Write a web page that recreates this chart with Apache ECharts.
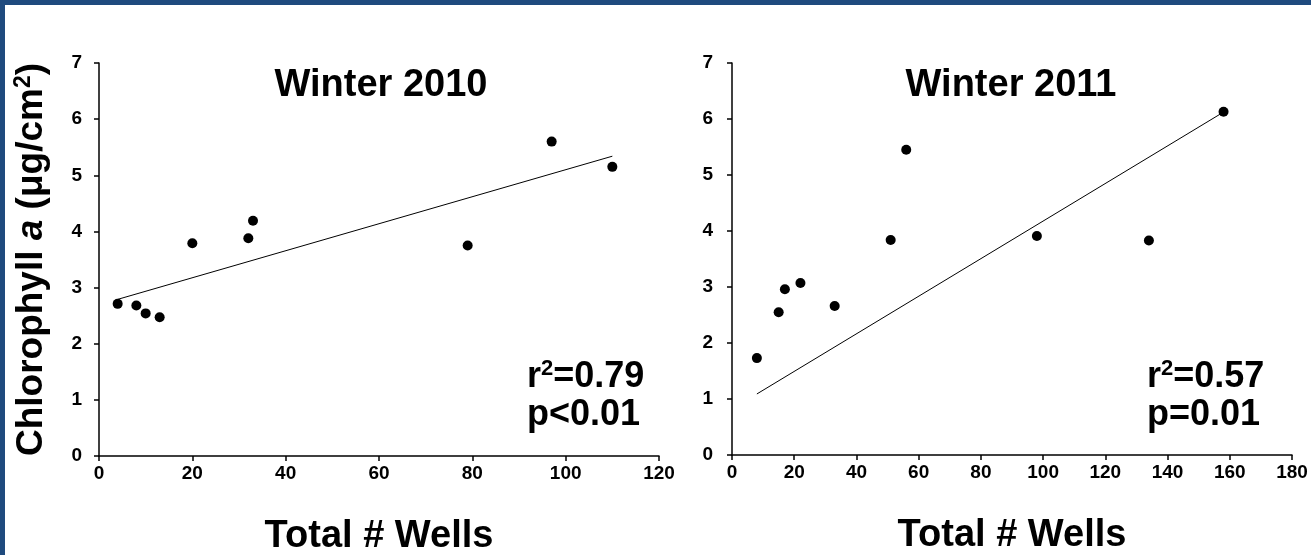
<!DOCTYPE html>
<html><head><meta charset="utf-8">
<script src="https://cdn.jsdelivr.net/npm/echarts@6.0.0/dist/echarts.min.js"></script>
<style>html,body{margin:0;padding:0;background:#fff}#c{width:1311px;height:555px}</style>
</head><body><div id="c"></div>
<script>
// ---- data ----
const wells2010 = [4, 8, 10, 13, 20, 32, 33, 79, 97, 110];
const chl2010   = [2.71, 2.68, 2.54, 2.47, 3.79, 3.88, 4.19, 3.75, 5.60, 5.15];
const wells2011 = [8, 15, 17, 22, 33, 51, 56, 98, 134, 158];
const chl2011   = [1.73, 2.55, 2.96, 3.07, 2.66, 3.84, 5.45, 3.91, 3.83, 6.13];
const trendX2010 = [4, 110];
const trendY2010 = [2.79, 5.34];
const trendX2011 = [8, 157];
const trendY2011 = [1.09, 6.09];
const xTicks2010 = [0, 20, 40, 60, 80, 100, 120];
const xTicks2011 = [0, 20, 40, 60, 80, 100, 120, 140, 160, 180];
const yTicks = [0, 1, 2, 3, 4, 5, 6, 7];
const panelTitles = ['Winter 2010', 'Winter 2011'];
const rSquared = ['0.79', '0.57'];
const pValues = ['p<0.01', 'p=0.01'];
const xAxisTitle = 'Total # Wells';

const FONT = '"Liberation Sans", Arial, sans-serif';
const pairs = (xs, ys) => xs.map((x, i) => [x, ys[i]]);
const step = a => a[1] - a[0];

function xAxisFor(ticks, gridIndex) {
  return {
    type: 'value', gridIndex, min: ticks[0], max: ticks[ticks.length - 1], interval: step(ticks),
    splitLine: { show: false },
    axisLine: { show: true, lineStyle: { color: '#000', width: 1.5 } },
    axisTick: { show: true, inside: false, length: 5, lineStyle: { color: '#000', width: 1.5 } },
    axisLabel: { color: '#000', fontFamily: FONT, fontWeight: 'bold', fontSize: 19, margin: 8 },
    name: xAxisTitle, nameLocation: 'middle', nameGap: 62,
    nameTextStyle: { color: '#000', fontFamily: FONT, fontWeight: 'bold', fontSize: 38 }
  };
}
function yAxisFor(gridIndex, withName, margin) {
  const ax = {
    type: 'value', gridIndex, min: yTicks[0], max: yTicks[yTicks.length - 1], interval: step(yTicks),
    splitLine: { show: false },
    axisLine: { show: true, lineStyle: { color: '#000', width: 1.5 } },
    axisTick: { show: true, inside: false, length: 5, lineStyle: { color: '#000', width: 1.5 } },
    axisLabel: { color: '#000', fontFamily: FONT, fontWeight: 'bold', fontSize: 19, margin }
  };
  if (withName) {
    ax.name = '{b|Chlorophyll }{i|a}{b| (\u03bcg/cm}{s|2}{b|)}';
    ax.nameLocation = 'middle';
    ax.nameGap = 47;
    ax.nameRotate = 90;
    const base = { color: '#000', fontFamily: FONT, fontWeight: 'bold', fontSize: 37, lineHeight: 40 };
    ax.nameTextStyle = {
      color: '#000', fontFamily: FONT, fontWeight: 'bold', fontSize: 37,
      rich: {
        b: base,
        i: Object.assign({}, base, { fontStyle: 'italic' }),
        s: { color: '#000', fontFamily: FONT, fontWeight: 'bold', fontSize: 23, lineHeight: 40, verticalAlign: 'top', padding: [0, 0, 16, 0] }
      }
    };
  }
  return ax;
}

const annoRich = {
  t: { fill: '#000', font: 'bold 36px ' + FONT, lineHeight: 38 },
  s: { fill: '#000', font: 'bold 22px ' + FONT, lineHeight: 38, verticalAlign: 'top', padding: [0, 0, 16, 0] }
};
function annotation(x, y, i) {
  return {
    type: 'text', x, y,
    style: {
      text: '{t|r}{s|2}{t|=' + rSquared[i] + '}\n{t|' + pValues[i] + '}',
      rich: annoRich, fill: '#000', font: 'bold 36px ' + FONT
    }
  };
}

const dotStyle = { color: '#000', opacity: 1 };
const chart = echarts.init(document.getElementById('c'), null, { renderer: 'canvas' });
chart.setOption({
  backgroundColor: '#fff',
  animation: false,
  grid: [
    { left: 99, top: 63, width: 560, height: 393, containLabel: false, outerBoundsMode: 'none' },
    { left: 732, top: 63, width: 560, height: 392, containLabel: false, outerBoundsMode: 'none' }
  ],
  xAxis: [xAxisFor(xTicks2010, 0), xAxisFor(xTicks2011, 1)],
  yAxis: [yAxisFor(0, true, 17), yAxisFor(1, false, 19)],
  series: [
    { type: 'scatter', xAxisIndex: 0, yAxisIndex: 0, data: pairs(wells2010, chl2010), symbol: 'circle', symbolSize: 10, itemStyle: dotStyle },
    { type: 'line', xAxisIndex: 0, yAxisIndex: 0, data: pairs(trendX2010, trendY2010), showSymbol: false, lineStyle: { color: '#000', width: 1 } },
    { type: 'scatter', xAxisIndex: 1, yAxisIndex: 1, data: pairs(wells2011, chl2011), symbol: 'circle', symbolSize: 10, itemStyle: dotStyle },
    { type: 'line', xAxisIndex: 1, yAxisIndex: 1, data: pairs(trendX2011, trendY2011), showSymbol: false, lineStyle: { color: '#000', width: 1 } }
  ],
  graphic: [
    { type: 'rect', shape: { x: 0, y: 0, width: 1311, height: 5 }, style: { fill: '#1f4a7e' } },
    { type: 'rect', shape: { x: 0, y: 0, width: 5, height: 555 }, style: { fill: '#1f4a7e' } },
    { type: 'text', x: 381, y: 86, style: { text: panelTitles[0], fill: '#000', font: 'bold 38px ' + FONT, textAlign: 'center', textVerticalAlign: 'middle' } },
    { type: 'text', x: 1011, y: 86, style: { text: panelTitles[1], fill: '#000', font: 'bold 38px ' + FONT, textAlign: 'center', textVerticalAlign: 'middle' } },
    annotation(527, 358, 0),
    annotation(1147, 358, 1)
  ]
});
</script></body></html>
